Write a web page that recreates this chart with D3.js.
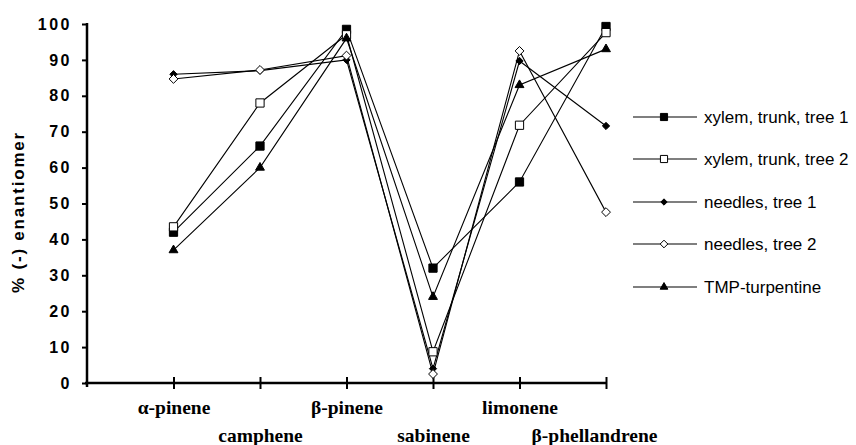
<!DOCTYPE html>
<html>
<head>
<meta charset="utf-8">
<script src="https://cdn.jsdelivr.net/npm/d3@7/dist/d3.min.js"></script>
<style>
html,body{margin:0;padding:0;background:#fff;}
</style>
</head>
<body>
<svg id="chart" width="856" height="445"></svg>
<script>
const categories = ["α-pinene", "camphene", "β-pinene", "sabinene", "limonene", "β-phellandrene"];
const seriesNames = ["xylem, trunk, tree 1", "xylem, trunk, tree 2", "needles, tree 1", "needles, tree 2", "TMP-turpentine"];
const xylemTree1 = [42, 66, 98.5, 32, 56, 99.3];
const xylemTree2 = [43.5, 78, 97, 8.7, 71.8, 97.6];
const needlesTree1 = [86, 87, 90, 4, 89.7, 71.6];
const needlesTree2 = [84.7, 87.2, 91.2, 2.5, 92.5, 47.6];
const turpentine = [37, 60, 96, 24, 83, 93];
const yTicks = [0, 10, 20, 30, 40, 50, 60, 70, 80, 90, 100];
const yLabel = "% (-) enantiomer";

const series = [
  {name: seriesNames[0], values: xylemTree1, shape: "square", fill: "#000"},
  {name: seriesNames[1], values: xylemTree2, shape: "square", fill: "#fff"},
  {name: seriesNames[2], values: needlesTree1, shape: "diamond", fill: "#000"},
  {name: seriesNames[3], values: needlesTree2, shape: "diamond", fill: "#fff"},
  {name: seriesNames[4], values: turpentine, shape: "triangle", fill: "#000"}
];

const svg = d3.select("#chart");
const x = d3.scaleLinear().domain([-1, categories.length - 1]).range([87, 606]);
const y = d3.scaleLinear().domain([0, 100]).range([383, 24]);

// Y axis
const yAxis = svg.append("g").attr("transform", "translate(87,0)")
  .call(d3.axisLeft(y).tickValues(yTicks).tickSize(5).tickPadding(10));
yAxis.select(".domain").remove();
yAxis.append("line").attr("x1", 0).attr("x2", 0).attr("y1", y(100) - 1).attr("y2", y(0) + 4)
  .attr("stroke", "#000").attr("stroke-width", 2.5);
yAxis.selectAll(".tick line").attr("stroke", "#000").attr("stroke-width", 2);
yAxis.selectAll(".tick text")
  .attr("fill", "#000")
  .attr("font-size", null).attr("font-family", null)
  .style("font-family", "'Liberation Sans', Arial, sans-serif")
  .style("font-weight", "900").style("font-size", "16px").style("letter-spacing", "2.5px");

// X axis
const xAxis = svg.append("g").attr("transform", `translate(0,${y(0)})`)
  .call(d3.axisBottom(x).tickValues(d3.range(categories.length)).tickSize(0)
    .tickFormat(i => categories[i]));
xAxis.select(".domain").remove();
xAxis.append("line").attr("x1", x(-1) - 2).attr("x2", x(categories.length - 1))
  .attr("y1", 0).attr("y2", 0).attr("stroke", "#000").attr("stroke-width", 2.5);
xAxis.selectAll(".tick").append("line").attr("y1", -6).attr("y2", 6)
  .attr("stroke", "#000").attr("stroke-width", 2);
xAxis.selectAll(".tick text")
  .attr("fill", "#000")
  .attr("y", (d, i) => i % 2 === 0 ? 31 : 59)
  .attr("dy", 0)
  .attr("dx", (d, i) => i === categories.length - 1 ? -12 : 0)
  .attr("font-size", null).attr("font-family", null)
  .style("font-family", "'Liberation Serif', 'Times New Roman', serif")
  .style("font-weight", "bold").style("font-size", "19.5px");

// Y label
svg.append("text")
  .attr("transform", `translate(24,${212}) rotate(-90)`)
  .attr("text-anchor", "middle")
  .style("font-family", "'Liberation Sans', Arial, sans-serif")
  .style("font-weight", "900").style("font-size", "17px").style("letter-spacing", "1.8px")
  .text(yLabel);

function symbolPath(shape, size) {
  if (shape === "square") return d3.symbol(d3.symbolSquare, size)();
  if (shape === "diamond") return d3.symbol(d3.symbolDiamond2 || d3.symbolDiamond, size)();
  return d3.symbol(d3.symbolTriangle, size)();
}
function markerSize(s, scale) {
  if (s.shape === "square") return 68 * scale;
  if (s.shape === "diamond") return (s.fill === "#fff" ? 50 : 34) * scale;
  return 34 * scale;
}

const line = d3.line().x((d, i) => x(i)).y(d => y(d));
const plot = svg.append("g");
series.forEach(s => {
  plot.append("path").datum(s.values).attr("d", line)
    .attr("fill", "none").attr("stroke", "#000").attr("stroke-width", 1.1);
});
series.forEach(s => {
  plot.selectAll(null).data(s.values).enter().append("path")
    .attr("transform", (d, i) => `translate(${x(i)},${y(d)})`)
    .attr("d", symbolPath(s.shape, markerSize(s, 1)))
    .attr("fill", s.fill).attr("stroke", "#000").attr("stroke-width", 1);
});

// Legend
const legendY = [117, 159, 202, 244, 287];
const legend = svg.append("g");
series.forEach((s, i) => {
  const g = legend.append("g").attr("transform", `translate(0,${legendY[i]})`);
  g.append("line").attr("x1", 633).attr("x2", 697).attr("y1", 0).attr("y2", 0)
    .attr("stroke", "#000").attr("stroke-width", 1.1);
  g.append("path").attr("transform", "translate(664,0)")
    .attr("d", symbolPath(s.shape, markerSize(s, 0.75)))
    .attr("fill", s.fill).attr("stroke", "#000").attr("stroke-width", 1);
  g.append("text").attr("x", 704).attr("y", 0).attr("dy", "0.35em")
    .style("font-family", "'Liberation Sans', Arial, sans-serif")
    .style("font-size", "17px").attr("fill", "#000")
    .text(s.name);
});
</script>
</body>
</html>
